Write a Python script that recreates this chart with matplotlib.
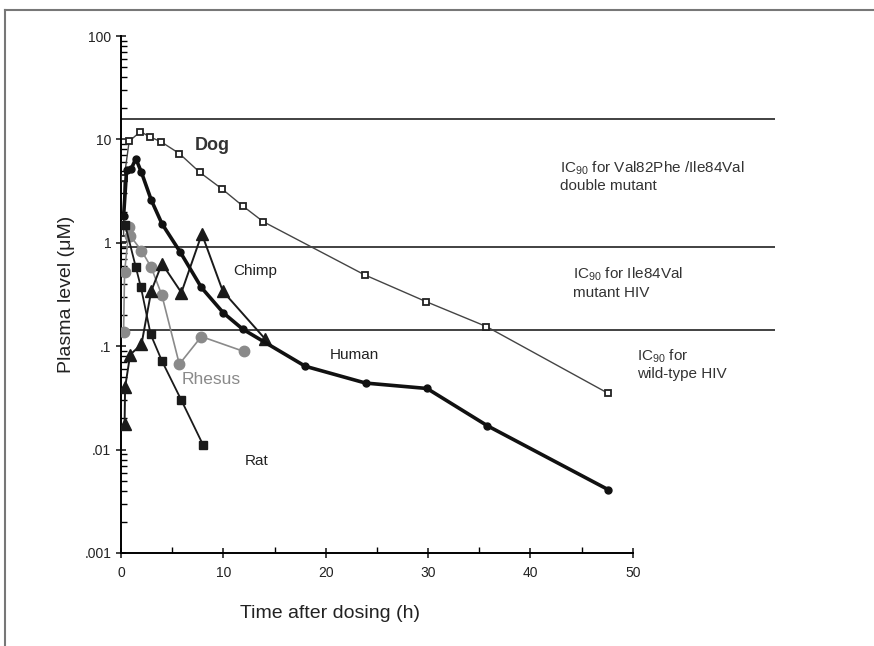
import numpy as np
import matplotlib
matplotlib.use("Agg")
import matplotlib.pyplot as plt
from matplotlib.lines import Line2D

plt.rcParams['font.family'] = ['Liberation Sans', 'DejaVu Sans']
plt.rcParams['mathtext.fontset'] = 'custom'
plt.rcParams['mathtext.rm'] = 'Liberation Sans'
plt.rcParams['mathtext.it'] = 'Liberation Sans:italic'

# Datos (tiempo en h, nivel en uM)
dog_t = [0.25, 0.3, 0.8, 1.9, 2.8, 3.9, 5.7, 7.7, 9.9, 11.9, 13.9, 23.8, 29.8, 35.7, 47.6]
dog_v = [1.1, 4.2, 9.6, 11.9, 10.6, 9.5, 7.3, 4.8, 3.3, 2.27, 1.6, 0.49, 0.27, 0.155, 0.035]

human_t = [0.25, 0.55, 1.0, 1.45, 2.0, 2.95, 4.0, 5.8, 7.85, 10.0, 11.9, 18.0, 23.9, 29.9, 35.8, 47.6]
human_v = [1.8, 5.1, 5.2, 6.5, 4.8, 2.6, 1.53, 0.81, 0.37, 0.21, 0.146, 0.064, 0.044, 0.039, 0.017, 0.0041]

chimp_t = [0.35, 0.4, 0.9, 2.0, 2.95, 4.0, 5.9, 7.9, 9.95, 14.1]
chimp_v = [0.0175, 0.040, 0.083, 0.104, 0.34, 0.63, 0.33, 1.22, 0.34, 0.117]

rat_t = [0.4, 1.45, 1.95, 2.9, 4.0, 5.9, 8.0]
rat_v = [1.5, 0.58, 0.37, 0.13, 0.072, 0.030, 0.0112]

rhesus_t = [0.25, 0.35, 0.8, 0.9, 2.0, 2.95, 4.0, 5.7, 7.85, 12.0]
rhesus_v = [0.136, 0.52, 1.42, 1.17, 0.84, 0.58, 0.31, 0.067, 0.124, 0.089]

# Niveles IC90
ic90_niveles = [15.8, 0.92, 0.145]
ic90_textos = ["IC$_{\\mathrm{90}}$ for Val82Phe /Ile84Val\ndouble mutant",
               "IC$_{\\mathrm{90}}$ for Ile84Val\nmutant HIV",
               "IC$_{\\mathrm{90}}$ for\nwild-type HIV"]

fig = plt.figure(figsize=(8.74, 6.46), dpi=100)
ax = fig.add_axes([121/874, 93/646, 654/874, 517/646])

ax.set_yscale('log')
ax.set_xlim(0, 63.9)
ax.set_ylim(0.001, 100)

for nivel in ic90_niveles:
    ax.axhline(nivel, color='#333333', lw=1.3, zorder=1)

ax.plot(dog_t, dog_v, color='#444444', lw=1.0, marker='s', ms=5,
        mfc='white', mec='#222222', mew=1.3, zorder=3)
ax.plot(rhesus_t, rhesus_v, color='#8a8a8a', lw=1.2, marker='o', ms=7.5,
        mfc='#8a8a8a', mec='#8a8a8a', zorder=3)
ax.plot(rat_t, rat_v, color='#1a1a1a', lw=1.3, marker='s', ms=5.5,
        mfc='#1a1a1a', mec='#1a1a1a', zorder=4)
ax.plot(chimp_t, chimp_v, color='#1a1a1a', lw=1.4, marker='^', ms=8.5,
        mfc='#1a1a1a', mec='#1a1a1a', zorder=4)
ax.plot(human_t, human_v, color='#111111', lw=2.6, marker='o', ms=5,
        mfc='#111111', mec='#111111', zorder=5)

# Etiquetas de especies
ax.text(7.2, 8.7, "Dog", fontsize=13, fontweight='bold', color='#333333', va='center')
ax.text(11.0, 0.53, "Chimp", fontsize=11, color='#222222', va='center')
ax.text(20.4, 0.082, "Human", fontsize=11, color='#222222', va='center')
ax.text(5.9, 0.048, "Rhesus", fontsize=12.5, color='#8a8a8a', va='center')
ax.text(12.1, 0.0078, "Rat", fontsize=11, color='#222222', va='center')

ax.text(42.9, 4.4, ic90_textos[0], fontsize=11, color='#333333', va='center', linespacing=1.25)
ax.text(44.2, 0.41, ic90_textos[1], fontsize=11, color='#333333', va='center', linespacing=1.25)
ax.text(50.4, 0.067, ic90_textos[2], fontsize=11, color='#333333', va='center', linespacing=1.25)

# Ejes
for s in ['top', 'right']:
    ax.spines[s].set_visible(False)
ax.spines['bottom'].set_bounds(0, 50)
ax.spines['left'].set_linewidth(1.4)
ax.spines['bottom'].set_linewidth(1.4)

ax.set_xticks([0, 10, 20, 30, 40, 50])
ax.set_xticks([5, 15, 25, 35, 45], minor=True)
ax.set_yticks([0.001, 0.01, 0.1, 1, 10, 100])
ax.set_yticklabels(['.001', '.01', '.1', '1', '10', '100'])
ax.tick_params(axis='both', which='major', direction='inout', length=7, width=1.2,
               labelsize=10, colors='#222222')
ax.tick_params(axis='both', which='minor', direction='in', length=4, width=1.0)
ax.tick_params(axis='y', which='minor', labelleft=False)
ax.tick_params(axis='x', which='major', pad=6)

ax.set_xlabel("Time after dosing (h)", fontsize=14, color='#222222')
ax.xaxis.set_label_coords(0.32, -0.1)
ax.set_ylabel("Plasma level (\u03bcM)", fontsize=14, color='#222222')
ax.yaxis.set_label_coords(-0.07, 0.5)

# Marco exterior
fig.add_artist(Line2D([5/874, 1], [1 - 10/646, 1 - 10/646], color='#777777', lw=1.5))
fig.add_artist(Line2D([5/874, 5/874], [0, 1 - 10/646], color='#777777', lw=1.5))

plt.savefig("out.png", dpi=100)
